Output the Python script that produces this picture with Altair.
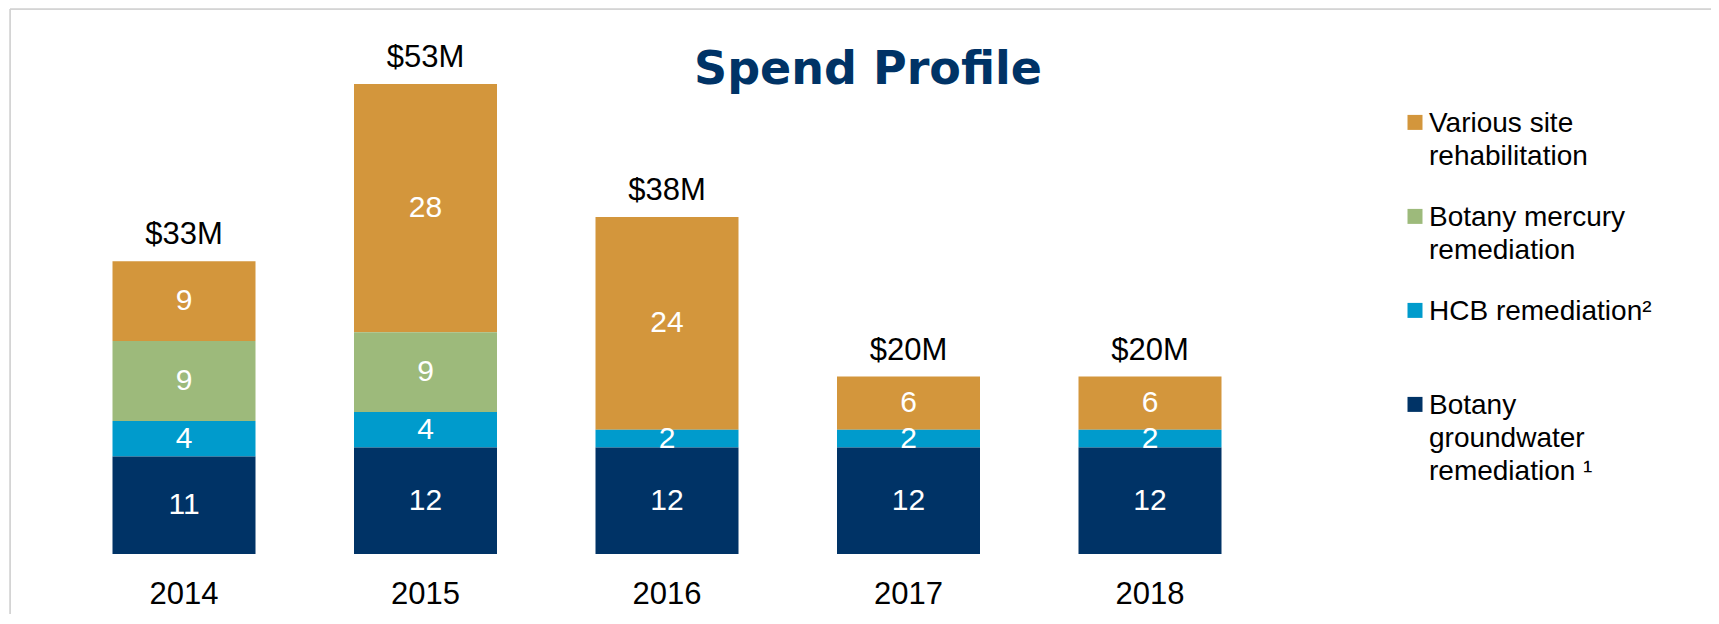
import altair as alt
import pandas as pd

# ---------------- data ----------------
years = ["2014", "2015", "2016", "2017", "2018"]
groundwater = [11, 12, 12, 12, 12]
hcb = [4, 4, 2, 2, 2]
mercury = [9, 9, 0, 0, 0]
various = [9, 28, 24, 6, 6]
totals = [33, 53, 38, 20, 20]
total_labels = ["$33M", "$53M", "$38M", "$20M", "$20M"]

series_names = [
    "Various site rehabilitation",
    "Botany mercury remediation",
    "HCB remediation²",
    "Botany groundwater remediation ¹",
]
legend_lines = [
    ["Various site", "rehabilitation"],
    ["Botany mercury", "remediation"],
    ["HCB remediation²"],
    ["Botany", "groundwater", "remediation ¹"],
]
series_colors = ["#D3963C", "#9DBA7B", "#009BCC", "#003366"]
series_values = [various, mercury, hcb, groundwater]
stack_order = [4, 3, 2, 1]  # 1 = bottom of the stack

rows = []
for name, vals, order in zip(series_names, series_values, stack_order):
    for yr, v in zip(years, vals):
        rows.append({"year": yr, "series": name, "value": v, "order": order})
df = pd.DataFrame(rows)
df_tot = pd.DataFrame({"year": years, "total": totals, "label": total_labels})

# ---------------- layout ----------------
VIEW_LEFT, VIEW_TOP = 10, 9          # page position of the plot area
W, H = 1701, 605                      # plot area size
BASE = 554                            # page y of the zero line
PX = 8.87                             # pixels per unit
STEP, BW, C0 = 241.5, 143.0, 184.0    # band step, bar width, first bar centre (page)
P_OUTER = 0.3

p_inner = 1 - BW / STEP
r0 = C0 - VIEW_LEFT - BW / 2 - P_OUTER * STEP
r1 = r0 + STEP * (len(years) - p_inner + 2 * P_OUTER)
y_max = (BASE - VIEW_TOP) / PX
y_min = -(H - (BASE - VIEW_TOP)) / PX

FONT = "Liberation Sans"

xscale = alt.Scale(domain=years, paddingInner=p_inner, paddingOuter=P_OUTER, range=[r0, r1])
yscale = alt.Scale(domain=[y_min, y_max], nice=False, zero=False)

x_enc = alt.X(
    "year:N",
    sort=years,
    scale=xscale,
    axis=alt.Axis(
        title=None, domain=False, ticks=False, grid=False,
        labelFont=FONT, labelFontSize=31, labelColor="#000000", labelAngle=0,
        labelBaseline="alphabetic", labelPadding=49,
        offset=-(H - (BASE - VIEW_TOP)),
    ),
)

label_expr = " : ".join(
    f"datum.label == '{n}' ? [" + ",".join(f"'{l}'" for l in lines) + "]"
    for n, lines in zip(series_names, legend_lines)
) + " : datum.label"

legend = alt.Legend(
    title=None, orient="none", legendX=1391, legendY=109,
    symbolType="M-1,-2.28L1,-2.28L1,-0.28L-1,-0.28Z",
    symbolSize=225, symbolStrokeWidth=0, symbolOpacity=1,
    labelFont=FONT, labelFontSize=28, labelColor="#000000",
    labelBaseline="alphabetic", labelOffset=0, labelLimit=600,
    labelExpr=label_expr, gridAlign="all", rowPadding=0, padding=0,
)

base = alt.Chart(df).transform_filter("datum.value > 0")

bars = base.mark_bar().encode(
    x=x_enc,
    y=alt.Y("value:Q", stack="zero", scale=yscale, axis=None),
    color=alt.Color("series:N", scale=alt.Scale(domain=series_names, range=series_colors), legend=legend),
    order=alt.Order("order:Q", sort="ascending"),
)

inner = base.transform_stack(
    stack="value", groupby=["year"], as_=["v0", "v1"],
    sort=[alt.SortField("order", order="ascending")],
).transform_calculate(mid="(datum.v0 + datum.v1) / 2").mark_text(
    color="#FFFFFF", font=FONT, fontSize=30, baseline="middle", align="center"
).encode(
    x=alt.X("year:N", sort=years),
    y=alt.Y("mid:Q", scale=yscale),
    text=alt.Text("value:Q"),
)

tot = alt.Chart(df_tot).mark_text(
    color="#000000", font=FONT, fontSize=31, baseline="alphabetic", align="center", dy=-17
).encode(
    x=alt.X("year:N", sort=years),
    y=alt.Y("total:Q", scale=yscale),
    text="label:N",
)

frame_src = alt.Chart(pd.DataFrame({"k": [0]}))
top_rule = frame_src.mark_rule(color="#D0D0D0", strokeWidth=1.5).encode(
    x=alt.value(0), x2=alt.value(W), y=alt.value(0)
)
left_rule = frame_src.mark_rule(color="#D0D0D0", strokeWidth=1.5).encode(
    x=alt.value(0), y=alt.value(0), y2=alt.value(H)
)

chart = alt.layer(top_rule, left_rule, bars, inner, tot).properties(
    width=W,
    height=H,
    padding={"left": VIEW_LEFT - 8, "top": VIEW_TOP - 8, "right": 0, "bottom": 0},
    autosize=alt.AutoSizeParams(type="none"),
    title=alt.Title(
        "Spend Profile", font="DejaVu Sans", fontSize=46, fontWeight="bold",
        color="#003366", anchor="middle", frame="group", baseline="alphabetic",
        offset=0, dx=7.5, dy=122,
    ),
).configure_view(strokeWidth=0).configure(
    background="white", style={"guide-label": {"lineHeight": 33}}
)

chart.save("out.html", embed_options={"renderer": "svg", "actions": False})
